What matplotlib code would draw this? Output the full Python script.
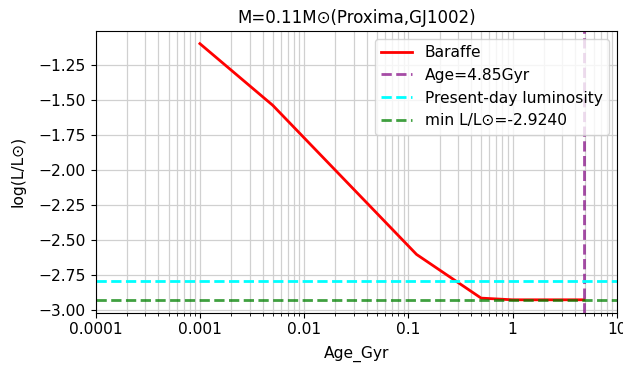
import matplotlib
matplotlib.use("Agg")
import matplotlib.pyplot as plt

age_gyr = [0.001, 0.005, 0.12, 0.5, 1.0, 4.85]
log_lum = [-1.095, -1.535, -2.60, -2.912, -2.924, -2.924]
age_now = 4.85
present_lum = -2.79
min_lum = -2.924

fig = plt.figure(figsize=(6.23, 3.73), dpi=100)
ax = fig.add_axes([0.1536, 0.1617, 0.8363, 0.755])
ax.plot(age_gyr, log_lum, color="red", lw=2, label="Baraffe")
ax.axvline(age_now, color="purple", ls="--", lw=2, alpha=0.7, label="Age=4.85Gyr")
ax.axhline(present_lum, color="cyan", ls="--", lw=2, label="Present-day luminosity")
ax.axhline(min_lum, color="green", ls="--", lw=2, alpha=0.75, label="min L/L\u2299=%.4f" % min_lum)
ax.set_xscale("log")
ax.set_xlim(1e-4, 10)
ax.set_xticks([1e-4, 1e-3, 1e-2, 0.1, 1, 10])
ax.set_xticklabels(["0.0001", "0.001", "0.01", "0.1", "1", "10"])
ax.set_ylim(-3.016, -1.005)
ax.set_yticks([-3.0, -2.75, -2.5, -2.25, -2.0, -1.75, -1.5, -1.25])
ax.tick_params(labelsize=11.2)
ax.grid(True, which="both", color="#d0d0d0", lw=0.9)
ax.set_axisbelow(True)
ax.set_xlabel("Age_Gyr", fontsize=11.2, labelpad=6)
ax.set_ylabel("log(L/L\u2299)", fontsize=11.2, labelpad=9)
ax.set_title("M=0.11M\u2299(Proxima,GJ1002)", fontsize=12)
ax.legend(loc="upper right", fontsize=11.2)
fig.savefig("out.png", dpi=100)
